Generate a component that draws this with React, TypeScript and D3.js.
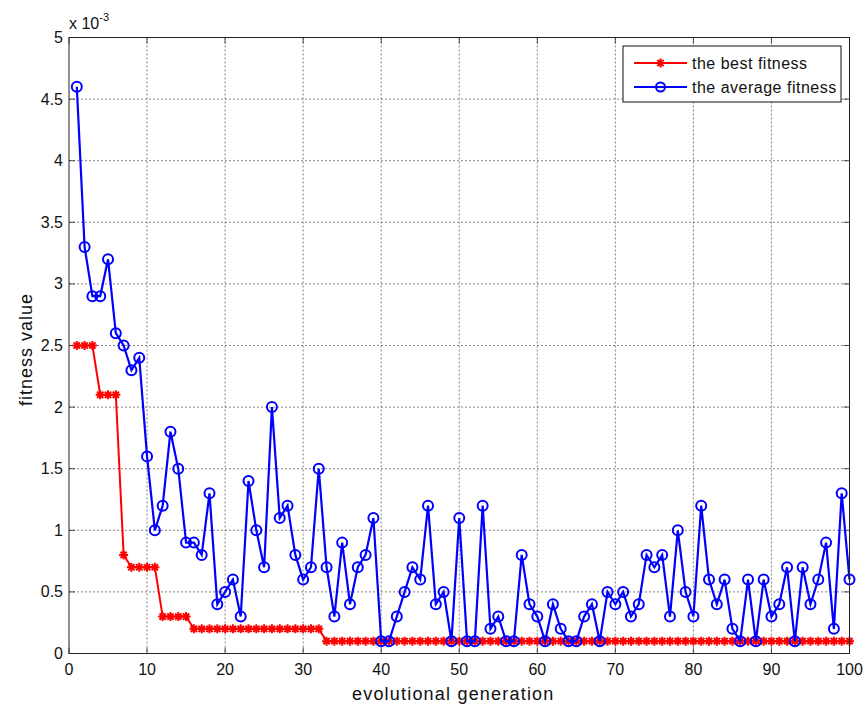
import React from "react";
import * as d3 from "d3";

// generations 1..100
const generations = d3.range(1, 101);

// best fitness (x 10^-3)
const bestFitness = [
  2.5, 2.5, 2.5, 2.1, 2.1, 2.1, 0.8, 0.7, 0.7, 0.7,
  0.7, 0.3, 0.3, 0.3, 0.3, 0.2, 0.2, 0.2, 0.2, 0.2,
  0.2, 0.2, 0.2, 0.2, 0.2, 0.2, 0.2, 0.2, 0.2, 0.2,
  0.2, 0.2, 0.1, 0.1, 0.1, 0.1, 0.1, 0.1, 0.1, 0.1,
  0.1, 0.1, 0.1, 0.1, 0.1, 0.1, 0.1, 0.1, 0.1, 0.1,
  0.1, 0.1, 0.1, 0.1, 0.1, 0.1, 0.1, 0.1, 0.1, 0.1,
  0.1, 0.1, 0.1, 0.1, 0.1, 0.1, 0.1, 0.1, 0.1, 0.1,
  0.1, 0.1, 0.1, 0.1, 0.1, 0.1, 0.1, 0.1, 0.1, 0.1,
  0.1, 0.1, 0.1, 0.1, 0.1, 0.1, 0.1, 0.1, 0.1, 0.1,
  0.1, 0.1, 0.1, 0.1, 0.1, 0.1, 0.1, 0.1, 0.1, 0.1,
];

// average fitness (x 10^-3)
const avgFitness = [
  4.6, 3.3, 2.9, 2.9, 3.2, 2.6, 2.5, 2.3, 2.4, 1.6,
  1.0, 1.2, 1.8, 1.5, 0.9, 0.9, 0.8, 1.3, 0.4, 0.5,
  0.6, 0.3, 1.4, 1.0, 0.7, 2.0, 1.1, 1.2, 0.8, 0.6,
  0.7, 1.5, 0.7, 0.3, 0.9, 0.4, 0.7, 0.8, 1.1, 0.1,
  0.1, 0.3, 0.5, 0.7, 0.6, 1.2, 0.4, 0.5, 0.1, 1.1,
  0.1, 0.1, 1.2, 0.2, 0.3, 0.1, 0.1, 0.8, 0.4, 0.3,
  0.1, 0.4, 0.2, 0.1, 0.1, 0.3, 0.4, 0.1, 0.5, 0.4,
  0.5, 0.3, 0.4, 0.8, 0.7, 0.8, 0.3, 1.0, 0.5, 0.3,
  1.2, 0.6, 0.4, 0.6, 0.2, 0.1, 0.6, 0.1, 0.6, 0.3,
  0.4, 0.7, 0.1, 0.7, 0.4, 0.6, 0.9, 0.2, 1.3, 0.6,
];

const xTicks = [0, 10, 20, 30, 40, 50, 60, 70, 80, 90, 100];
const yTicks = [0, 0.5, 1, 1.5, 2, 2.5, 3, 3.5, 4, 4.5, 5];
const seriesNames = ["the best fitness", "the average fitness"];

const FONT = "Arial, 'Liberation Sans', Helvetica, sans-serif";

// matlab-ish '*' marker
const star = (r: number) =>
  `M${-r},0L${r},0M0,${-r}L0,${r}` +
  `M${-r * 0.7},${-r * 0.7}L${r * 0.7},${r * 0.7}M${-r * 0.7},${r * 0.7}L${r * 0.7},${-r * 0.7}`;

export default function App() {
  const width = 866;
  const height = 706;
  const margin = { top: 37.5, right: 16.5, bottom: 52.5, left: 69 };
  const iw = width - margin.left - margin.right;
  const ih = height - margin.top - margin.bottom;

  const x = d3.scaleLinear().domain([0, 100]).range([0, iw]);
  const y = d3.scaleLinear().domain([0, 5]).range([ih, 0]);

  const line = d3
    .line<number>()
    .x((_, i) => x(generations[i]))
    .y((d) => y(d));

  const tick = 6;

  return (
    <svg
      width={width}
      height={height}
      style={{ position: "absolute", left: 0, top: 0, background: "#fff" }}
      fontFamily={FONT}
    >
      <rect width={width} height={height} fill="#fff" />
      <g transform={`translate(${margin.left},${margin.top})`}>
        {/* grid */}
        {xTicks.slice(1, -1).map((t) => (
          <line key={"gx" + t} x1={x(t)} x2={x(t)} y1={0} y2={ih}
            stroke="#333" strokeWidth={0.6} strokeDasharray="2 2" />
        ))}
        {yTicks.slice(1, -1).map((t) => (
          <line key={"gy" + t} x1={0} x2={iw} y1={y(t)} y2={y(t)}
            stroke="#333" strokeWidth={0.6} strokeDasharray="2 2" />
        ))}

        {/* ticks, inward on all sides */}
        {xTicks.map((t) => (
          <g key={"tx" + t} stroke="#222" strokeWidth={0.8}>
            <line x1={x(t)} x2={x(t)} y1={ih} y2={ih - tick} />
            <line x1={x(t)} x2={x(t)} y1={0} y2={tick} />
          </g>
        ))}
        {yTicks.map((t) => (
          <g key={"ty" + t} stroke="#222" strokeWidth={0.8}>
            <line x1={0} x2={tick} y1={y(t)} y2={y(t)} />
            <line x1={iw} x2={iw - tick} y1={y(t)} y2={y(t)} />
          </g>
        ))}

        {/* best fitness */}
        <path d={line(bestFitness) || ""} fill="none" stroke="#ff0000" strokeWidth={2} />
        {bestFitness.map((v, i) => (
          <path key={"b" + i} d={star(4.5)}
            transform={`translate(${x(generations[i])},${y(v)})`}
            stroke="#ff0000" strokeWidth={2} fill="none" />
        ))}

        {/* average fitness */}
        <path d={line(avgFitness) || ""} fill="none" stroke="#0000ff" strokeWidth={2.2} />
        {avgFitness.map((v, i) => (
          <circle key={"a" + i} cx={x(generations[i])} cy={y(v)} r={5}
            fill="none" stroke="#0000ff" strokeWidth={2} />
        ))}

        {/* frame */}
        <rect x={0} y={0} width={iw} height={ih} fill="none" stroke="#222" strokeWidth={1} />

        {/* tick labels */}
        {xTicks.map((t) => (
          <text key={"lx" + t} x={x(t)} y={ih + 21} textAnchor="middle" fontSize={16} fill="#111">
            {t}
          </text>
        ))}
        {yTicks.map((t) => (
          <text key={"ly" + t} x={-6} y={y(t) + 5.5} textAnchor="end" fontSize={16} fill="#111">
            {t}
          </text>
        ))}
        <text x={0} y={-9} fontSize={16} fill="#111">
          x 10
          <tspan dy={-8} fontSize={11}>-3</tspan>
        </text>

        {/* axis labels */}
        <text x={iw / 2 - 6} y={ih + 46} textAnchor="middle" fontSize={18} fill="#111" letterSpacing={1.2}>
          evolutional generation
        </text>
        <text transform={`translate(${-37},${ih / 2 + 4}) rotate(-90)`} textAnchor="middle" fontSize={18} fill="#111" letterSpacing={1}>
          fitness value
        </text>

        {/* legend */}
        <g transform={`translate(${623 - margin.left},${46 - margin.top})`}>
          <rect width={218} height={56} fill="#fff" stroke="#111" strokeWidth={1} />
          <line x1={11} x2={64} y1={17} y2={17} stroke="#ff0000" strokeWidth={2} />
          <path d={star(4.5)} transform="translate(37.5,17)" stroke="#ff0000" strokeWidth={2} fill="none" />
          <text x={69} y={22.5} fontSize={16} fill="#111" letterSpacing={0.5}>{seriesNames[0]}</text>
          <line x1={11} x2={64} y1={41} y2={41} stroke="#0000ff" strokeWidth={2} />
          <circle cx={37.5} cy={41} r={4.5} fill="none" stroke="#0000ff" strokeWidth={2} />
          <text x={69} y={46.5} fontSize={16} fill="#111" letterSpacing={0.5}>{seriesNames[1]}</text>
        </g>
      </g>
    </svg>
  );
}
